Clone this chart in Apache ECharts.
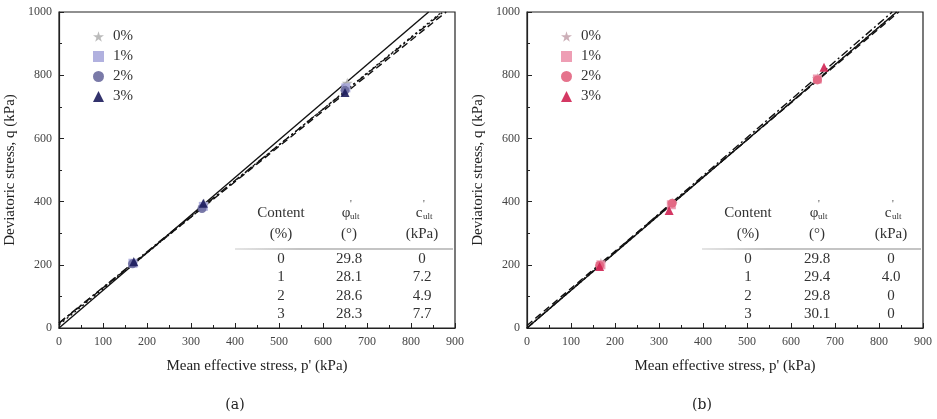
<!DOCTYPE html>
<html>
<head>
<meta charset="utf-8">
<script src="https://cdn.jsdelivr.net/npm/echarts@6/dist/echarts.min.js"></script>
<style>html,body{margin:0;padding:0;background:#fff}#c{width:937px;height:419px}</style>
</head>
<body>
<div id="c"></div>
<script>
// ---- data ----
const contents = ['0%', '1%', '2%', '3%'];
// fitted lines (endpoints) [p', q]
const linesA = [
  [[0, 0], [840, 1000]],
  [[0, 15], [880, 1000]],
  [[0, 10], [870, 1000]],
  [[0, 16], [873, 1000]]
];
const linesB = [
  [[0, 0], [840, 1000]],
  [[0, 8], [845, 1000]],
  [[0, 0], [840, 1000]],
  [[0, 0], [830, 1000]]
];
// measured points [p', q]
const pointsA = [
  [[170, 208], [330, 392], [655, 775]],
  [[168, 205], [328, 385], [652, 760]],
  [[167, 203], [325, 378], [650, 752]],
  [[170, 210], [328, 395], [650, 745]]
];
const pointsB = [
  [[168, 205], [330, 395], [660, 790]],
  [[168, 200], [328, 390], [660, 788]],
  [[165, 198], [330, 395], [660, 785]],
  [[165, 195], [323, 372], [675, 825]]
];
const tableContent = ['0', '1', '2', '3'];
const phiA = ['29.8', '28.1', '28.6', '28.3'];
const cA = ['0', '7.2', '4.9', '7.7'];
const phiB = ['29.8', '29.4', '29.8', '30.1'];
const cB = ['0', '4.0', '0', '0'];

// ---- styles ----
const SERIF = 'Liberation Serif';
const star = 'path://M50,0 L61,35 L98,35 L68,57 L79,91 L50,70 L21,91 L32,57 L2,35 L39,35 Z';
const symbols = [star, 'rect', 'circle', 'triangle'];
const colorsA = ['#b4b4b4', '#a9a9dc', '#6b6b9e', '#1c1c5c'];
const colorsB = ['#c6a6b0', '#ec94ac', '#e2647f', '#cf2252'];
const lineTypes = ['solid', [7, 4], [2, 3], [8, 3, 2, 3]];

const chart = echarts.init(document.getElementById('c'));

function xAxisDef(gi) {
  return {
    gridIndex: gi, type: 'value', min: 0, max: 900, interval: 100,
    name: "Mean effective stress, p' (kPa)", nameLocation: 'middle', nameGap: 31,
    nameTextStyle: { fontFamily: SERIF, fontSize: 15, color: '#222' },
    axisLine: { show: true, lineStyle: { color: '#222', width: 1.2 } },
    axisTick: { inside: true, length: 5, lineStyle: { color: '#222' } },
    minorTick: { show: true, splitNumber: 2, length: 3, lineStyle: { color: '#222' } },
    axisLabel: { fontFamily: SERIF, fontSize: 12, color: '#444', margin: 8, formatter: v => String(v) },
    splitLine: { show: false }
  };
}
function yAxisDef(gi) {
  return {
    gridIndex: gi, type: 'value', min: 0, max: 1000, interval: 200,
    name: 'Deviatoric stress, q (kPa)', nameLocation: 'middle', nameGap: 41,
    nameTextStyle: { fontFamily: SERIF, fontSize: 15, color: '#222' },
    axisLine: { show: true, lineStyle: { color: '#222', width: 1.2 } },
    axisTick: { inside: true, length: 5, lineStyle: { color: '#222' } },
    minorTick: { show: true, splitNumber: 2, length: 3, lineStyle: { color: '#222' } },
    axisLabel: { fontFamily: SERIF, fontSize: 12, color: '#444', margin: 7, formatter: v => String(v) },
    splitLine: { show: false }
  };
}

const series = [];
function addPanel(gi, lines, points, colors, prefix) {
  lines.forEach((ln, i) => {
    series.push({
      type: 'line', xAxisIndex: gi, yAxisIndex: gi, data: ln, symbol: 'none',
      lineStyle: { color: '#111', width: 1.4, type: lineTypes[i] }, silent: true, z: 2
    });
  });
  points.forEach((pts, i) => {
    series.push({
      name: prefix + i, type: 'scatter', xAxisIndex: gi, yAxisIndex: gi, data: pts,
      symbol: symbols[i], symbolSize: i === 0 ? 11 : 9,
      itemStyle: { color: colors[i], opacity: 0.9 }, z: 3
    });
  });
}
addPanel(0, linesA, pointsA, colorsA, 'a');
addPanel(1, linesB, pointsB, colorsB, 'b');

function legendDef(left, prefix) {
  return {
    orient: 'vertical', left: left, top: 24, itemWidth: 11, itemHeight: 11, itemGap: 5,
    data: contents.map((c, i) => prefix + i),
    formatter: name => contents[+name.slice(1)],
    textStyle: { fontFamily: SERIF, fontSize: 15, color: '#333', padding: [0, 0, 0, 4] },
    selectedMode: false
  };
}

const graphics = [];
function txt(x, y, s, size, align) {
  graphics.push({
    type: 'text', x: x, y: y,
    style: { text: s, fontFamily: SERIF, fontSize: size || 15, fill: '#333', align: align || 'center', verticalAlign: 'middle' }
  });
}
function addTable(cx, phi, c, lineX1, lineX2) {
  const [x1, x2, x3] = cx;
  txt(x1, 213, 'Content'); txt(x1, 234, '(%)');
  txt(x2 - 3, 213, 'φ'); txt(x2 + 1, 204, "'", 10, 'left'); txt(x2 + 1, 217, 'ult', 9, 'left');
  txt(x2, 234, '(°)');
  txt(x3 - 3, 213, 'c'); txt(x3 + 1, 204, "'", 10, 'left'); txt(x3 + 1, 217, 'ult', 9, 'left');
  txt(x3, 234, '(kPa)');
  graphics.push({
    type: 'line', shape: { x1: lineX1, y1: 249, x2: lineX2, y2: 249 },
    style: { stroke: new echarts.graphic.LinearGradient(0, 0, 1, 0, [{ offset: 0, color: '#e6e6e6' }, { offset: 0.3, color: '#c4c4c4' }, { offset: 1, color: '#c4c4c4' }]), lineWidth: 2 }
  });
  tableContent.forEach((t, i) => {
    const y = 259 + i * 18.3;
    txt(x1, y, t); txt(x2, y, phi[i]); txt(x3, y, c[i]);
  });
}
addTable([281, 349, 422], phiA, cA, 235, 453);
addTable([748, 817, 891], phiB, cB, 702, 921);
graphics.push({ type: 'text', x: 235, y: 405, style: { text: '(a)', fontFamily: 'DejaVu Serif', fontSize: 14, fill: '#222', align: 'center', verticalAlign: 'middle' } });
graphics.push({ type: 'text', x: 702, y: 405, style: { text: '(b)', fontFamily: 'DejaVu Serif', fontSize: 14, fill: '#222', align: 'center', verticalAlign: 'middle' } });

chart.setOption({
  animation: false,
  backgroundColor: '#fff',
  grid: [
    { left: 59, top: 12, width: 396, height: 316, show: true, borderColor: '#222', borderWidth: 1.2, containLabel: false },
    { left: 527, top: 12, width: 396, height: 316, show: true, borderColor: '#222', borderWidth: 1.2, containLabel: false }
  ],
  xAxis: [xAxisDef(0), xAxisDef(1)],
  yAxis: [yAxisDef(0), yAxisDef(1)],
  legend: [legendDef(88, 'a'), legendDef(556, 'b')],
  series: series,
  graphic: graphics
});
</script>
</body>
</html>
